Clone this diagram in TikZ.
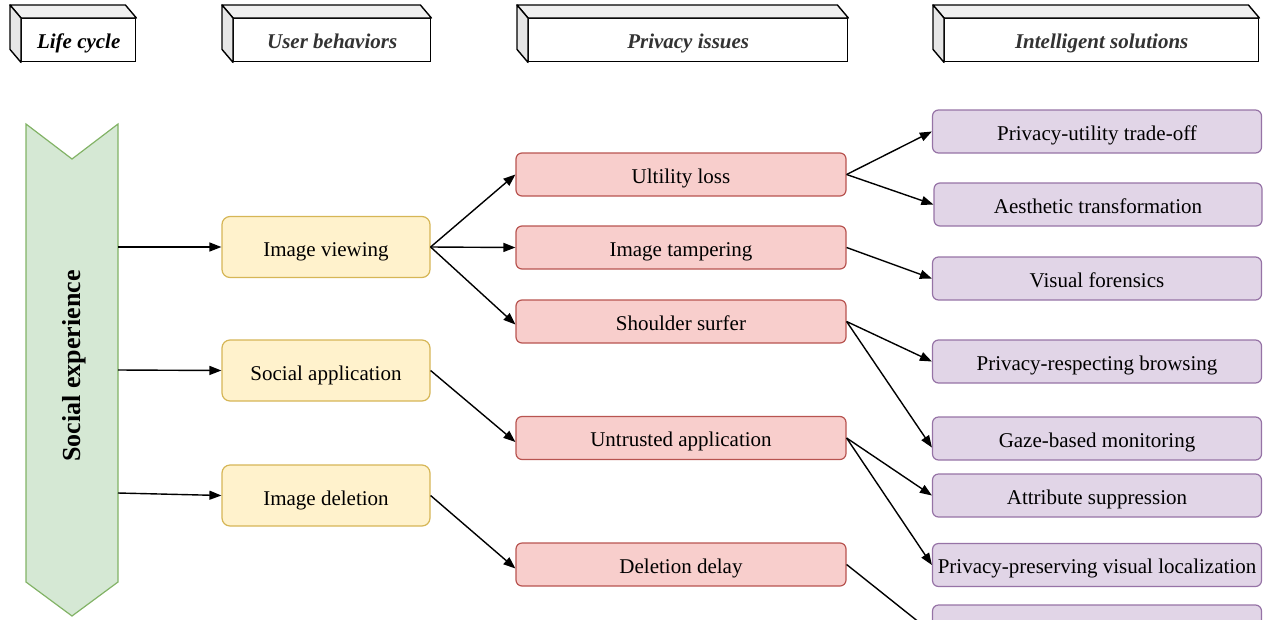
\documentclass[tikz,border=0pt]{standalone}
\usepackage{fontspec}
\setmainfont{Liberation Serif}
\usetikzlibrary{arrows.meta,calc}
\definecolor{greenfill}{HTML}{D5E8D4}
\definecolor{greenline}{HTML}{82B366}
\definecolor{yellowfill}{HTML}{FFF2CC}
\definecolor{yellowline}{HTML}{D6B656}
\definecolor{redfill}{HTML}{F8CECC}
\definecolor{redline}{HTML}{B85450}
\definecolor{purplefill}{HTML}{E1D5E7}
\definecolor{purpleline}{HTML}{9673A6}
\definecolor{sidegray}{HTML}{E6E6E6}
\definecolor{topgray}{HTML}{F0F0F0}
\definecolor{headtext}{HTML}{333333}
\tikzset{
  txt/.style={font=\fontsize{21}{24}\selectfont, text height=17pt, text depth=0pt},
  hdrbox/.style={draw=black, line width=1.4pt, fill=white, minimum height=43pt,
    inner sep=0pt, text height=17pt, text depth=0pt,
    font=\fontsize{21}{24}\selectfont\bfseries\itshape},
  hdrface/.style={draw=black, line width=1.4pt, line join=round},
  behavior/.style={txt, text height=19pt, draw=yellowline, fill=yellowfill, line width=1.2pt,
    rounded corners=8pt, minimum width=208pt, minimum height=61pt, inner sep=0pt},
  issue/.style={txt, draw=redline, fill=redfill, line width=1.2pt, rounded corners=6pt,
    minimum width=330pt, minimum height=43pt, inner sep=0pt},
  solution/.style={txt, draw=purpleline, fill=purplefill, line width=1.2pt, rounded corners=6pt,
    minimum width=329pt, minimum height=43pt, inner sep=0pt},
  link/.style={draw=black, line width=1.4pt, -{Triangle[length=12pt,width=9pt]}},
}
\begin{document}
\begin{tikzpicture}[x=1pt,y=-1pt]
\useasboundingbox (0,0) rectangle (1263,619);
\begin{scope}
\clip (0,0) rectangle (1263,619);

% column headers drawn as 3D boxes
\foreach \nm/\xa/\xb/\lbl/\col in {
    hlife/21/135/Life cycle/black,
    huser/233/430/User behaviors/headtext,
    hpriv/528/847/Privacy issues/headtext,
    hsol/944/1258/Intelligent solutions/headtext} {
  \node[hdrbox, text=\col, minimum width={\xb-\xa}, anchor=north west] (\nm) at (\xa,18) {\lbl};
  \draw[hdrface, fill=topgray] (\nm.north west) -- ++(-11,-13) -- ($(\nm.north east)+(-11,-13)$) -- (\nm.north east) -- cycle;
  \draw[hdrface, fill=sidegray] (\nm.north west) -- ++(-11,-13) -- ($(\nm.south west)+(-11,-13)$) -- (\nm.south west) -- cycle;
}

% life-cycle chevron
\draw[draw=greenline, fill=greenfill, line width=1.2pt]
  (26,124) -- (72,159) -- (118,124) -- (118,582) -- (72,616) -- (26,582) -- cycle;
\node[rotate=90, font=\fontsize{26}{28}\selectfont\bfseries] (life) at (74,366) {Social experience};
\coordinate (lc1) at (118,247);
\coordinate (lc2) at (118,370);
\coordinate (lc3) at (118,493);

% user behaviors
\node[behavior] (view) at (326,247) {Image viewing};
\node[behavior] (app)  at (326,370.5) {Social application};
\node[behavior] (del)  at (326,495.5) {Image deletion};

% privacy issues
\node[issue] (loss)   at (681,174.5) {Ultility loss};
\node[issue] (tamper) at (681,247.5) {Image tampering};
\node[issue] (surf)   at (681,321.5) {Shoulder surfer};
\node[issue] (untr)   at (681,438) {Untrusted application};
\node[issue] (delay)  at (681,564.5) {Deletion delay};

% intelligent solutions
\node[solution] (tradeoff) at (1097,131.5) {Privacy-utility trade-off};
\node[solution, minimum width=328pt] (aesth) at (1098,204.5) {Aesthetic transformation};
\node[solution] (forens)   at (1097,278.5) {Visual forensics};
\node[solution] (browse)   at (1097,361.5) {Privacy-respecting browsing};
\node[solution] (gaze)     at (1097,438.5) {Gaze-based monitoring};
\node[solution] (attr)     at (1097,495.5) {Attribute suppression};
\node[solution] (local)    at (1097,565) {Privacy-preserving visual localization};
\node[solution] (last)     at (1097,626.5) {};

% connectors
\draw[link] (lc1) -- (view.west);
\draw[link] (lc2) -- (app.west);
\draw[link] (lc3) -- (del.west);

\draw[link] (view.east) -- (loss.west);
\draw[link] (view.east) -- (tamper.west);
\draw[link] (view.east) -- ([yshift=-3pt]surf.west);
\draw[link] (app.east) -- ([yshift=-4pt]untr.west);
\draw[link] (del.east) -- ([yshift=-4pt]delay.west);

\draw[link] (loss.east) -- (tradeoff.west);
\draw[link] (loss.east) -- (aesth.west);
\draw[link] (tamper.east) -- (forens.west);
\draw[link] (surf.east) -- (browse.west);
\draw[link] (surf.east) -- ([yshift=-9pt]gaze.west);
\draw[link] (untr.east) -- (attr.west);
\draw[link] (untr.east) -- (local.west);
\draw[link] (delay.east) -- ([yshift=-6pt]last.west);
\end{scope}
\end{tikzpicture}
\end{document}
